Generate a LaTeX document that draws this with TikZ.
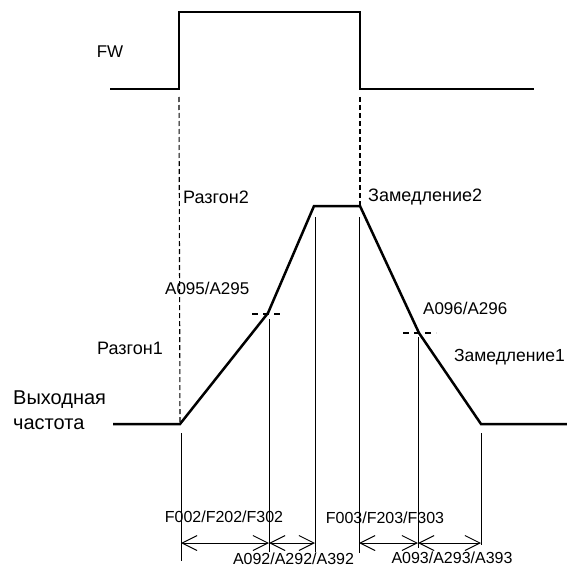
\documentclass[tikz,border=0pt]{standalone}
\usepackage{fontspec}
\setmainfont{Liberation Sans}
\usetikzlibrary{arrows.meta,positioning,calc}

\begin{document}
\begin{tikzpicture}[
  x=1pt,y=-1pt,
  signal/.style={line width=2.5pt,line join=miter},
  guide/.style={line width=1.1pt,dash pattern=on 5pt off 3pt},
  marker/.style={line width=1.1pt,dash pattern=on 6pt off 5pt},
  tick/.style={line width=1pt},
  dimarrow/.style={line width=1pt,{Straight Barb[length=15pt,width=15pt]}-{Straight Barb[length=15pt,width=15pt]}},
  lbl/.style={inner sep=0pt,font=\fontsize{17}{20}\selectfont},
  phaselbl/.style={inner sep=0pt,font=\fontsize{18}{21}\selectfont},
  timelbl/.style={inner sep=0pt,font=\fontsize{16}{19}\selectfont},
  biglbl/.style={inner sep=0pt,align=left,font=\fontsize{20}{25}\selectfont}
]
\useasboundingbox (0,0) rectangle (567,567);
% FW command
\coordinate (fwL) at (110,89);
\coordinate (fwUp) at (179,89);
\coordinate (fwUpT) at (179,12);
\coordinate (fwDnT) at (360,12);
\coordinate (fwDn) at (360,89);
\coordinate (fwR) at (534,89);
\draw[signal] (fwL)--(fwUp)--(fwUpT)--(fwDnT)--(fwDn)--(fwR);
\node[lbl] (fw) at (110,52) {FW};
% output frequency
\coordinate (outL) at (113,424);
\coordinate (accS) at (180,424);
\coordinate (accK) at (268,313);
\coordinate (topL) at (314,206);
\coordinate (topR) at (360,206);
\coordinate (decK) at (419,333);
\coordinate (decE) at (481,424);
\coordinate (outR) at (567,424);
\draw[signal] (outL)--(accS)--(accK)--(topL)--(topR)--(decK)--(decE)--(outR);
% guides from FW edges
\draw[guide] (179,97)--(accS);
\draw[guide] (360,97)--(topR);
\draw[marker] ($(accK)+(-16,1)$)--($(accK)+(16,1)$);
\draw[marker] ($(decK)+(-16,0)$)--($(decK)+(17,0)$);
% time marks
\coordinate (t1) at (181,543);
\coordinate (t2) at (269,543);
\coordinate (t3) at (315,543);
\coordinate (t4) at (359,543);
\coordinate (t5) at (418,543);
\coordinate (t6) at (481,543);
\draw[tick] (181,433)--(181,561);
\draw[tick] (269,319)--(269,552);
\draw[tick] (315,217)--(315,552);
\draw[tick] (359,217)--(359,553);
\draw[tick] (418,337)--(418,548);
\draw[tick] (481,433)--(481,545);
\draw[dimarrow] (t1)--(t2); \draw[dimarrow] (t2)--(t3);
\draw[dimarrow] (t4)--(t5); \draw[dimarrow] (t5)--(t6);
% labels
\node[phaselbl,anchor=west] (acc2) at (183,197) {Разгон2};
\node[phaselbl,anchor=west] (dec2) at (368,197) {Замедление2};
\node[lbl,anchor=west] (a095) at (165,288) {A095/A295};
\node[lbl,anchor=west] (a096) at (423,308) {A096/A296};
\node[phaselbl,anchor=east] (acc1) at (163,348) {Разгон1};
\node[phaselbl,anchor=east,font=\fontsize{17.5}{21}\selectfont] (dec1) at (565,357) {Замедление1};
\node[biglbl,anchor=west] (fout) at (13,410.5) {Выходная\\частота};
\node[timelbl] (f002) at (224,517) {F002/F202/F302};
\node[timelbl] (f003) at (385,518) {F003/F203/F303};
\node[timelbl] (a092) at (293.5,559) {A092/A292/A392};
\node[timelbl] (a093) at (452,558) {A093/A293/A393};
\end{tikzpicture}
\end{document}
